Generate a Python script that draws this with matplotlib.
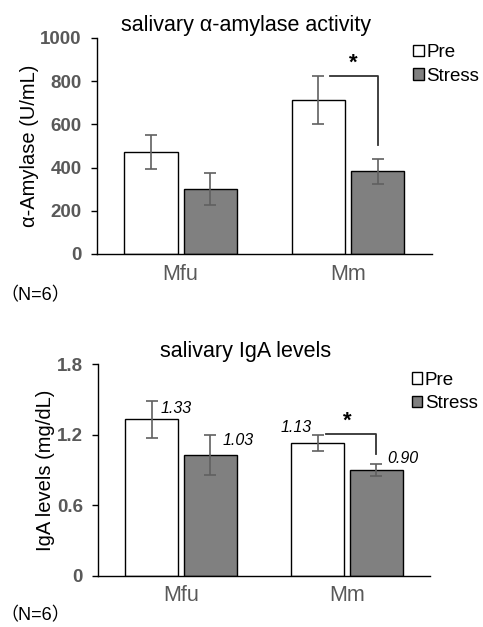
import matplotlib
matplotlib.use('Agg')
import matplotlib.pyplot as plt
import numpy as np

plt.rcParams['font.family'] = ['Liberation Sans', 'Noto Sans CJK JP', 'DejaVu Sans']

groups = ['Mfu', 'Mm']
series = ['Pre', 'Stress']

amy_pre = [472, 713]
amy_pre_err = [80, 110]
amy_stress = [301, 384]
amy_stress_err = [74, 58]

iga_pre = [1.33, 1.13]
iga_pre_err = [0.16, 0.07]
iga_stress = [1.03, 0.90]
iga_stress_err = [0.17, 0.05]

amy_ticks = [0, 200, 400, 600, 800, 1000]
iga_ticks = [0, 0.6, 1.2, 1.8]

TICK_GRAY = '#595959'
ERR_GRAY = '#606060'
STRESS_FILL = '#808080'

fig = plt.figure(figsize=(4.83, 6.27), dpi=100)


def draw_panel(ax, pre, pre_err, stress, stress_err, ticks, ylim, ylabel, title):
    x = np.arange(len(groups))
    w = 0.32
    off = 0.177
    ax.bar(x - off, pre, w, color='white', edgecolor='black', linewidth=1.0, label=series[0], zorder=2)
    ax.bar(x + off, stress, w, color=STRESS_FILL, edgecolor='black', linewidth=1.0, label=series[1], zorder=2)
    ax.errorbar(x - off, pre, yerr=pre_err, fmt='none', ecolor=ERR_GRAY, elinewidth=1.2, capsize=4, capthick=1.2, zorder=3)
    ax.errorbar(x + off, stress, yerr=stress_err, fmt='none', ecolor=ERR_GRAY, elinewidth=1.2, capsize=4, capthick=1.2, zorder=3)
    ax.set_xlim(-0.5, 1.5)
    ax.set_ylim(*ylim)
    ax.set_yticks(ticks)
    ax.set_yticklabels([f'{t:g}' for t in ticks], fontweight='bold', color=TICK_GRAY, fontsize=13.5)
    ax.set_xticks(x)
    ax.set_xticklabels(groups, fontsize=15.5, color=TICK_GRAY)
    ax.tick_params(axis='x', length=0, pad=7)
    ax.tick_params(axis='y', length=4, width=1, direction='out', pad=7)
    for s in ['top', 'right']:
        ax.spines[s].set_visible(False)
    ax.spines['left'].set_linewidth(1.0)
    ax.spines['bottom'].set_linewidth(1.0)
    ax.set_ylabel(ylabel, fontsize=14.5, labelpad=1)
    ax.set_title(title, fontsize=15.5, pad=5, x=0.446)
    leg = ax.legend(loc='upper left', frameon=False, fontsize=13.5,
                    handlelength=0.55, handleheight=0.55, handletextpad=0.15, labelspacing=0.33,
                    borderaxespad=0, borderpad=0)
    for h in leg.legend_handles:
        h.set_linewidth(1.0)
    return x, off


# top panel
ax1 = fig.add_axes([0.2008, 0.5949, 0.6930, 0.3445])
x, off = draw_panel(ax1, amy_pre, amy_pre_err, amy_stress, amy_stress_err, amy_ticks, (0, 1000),
                    'α-Amylase (U/mL)', 'salivary α-amylase activity')
ax1.plot([x[1] - off + 0.07, x[1] + off, x[1] + off], [824, 824, 505], color='#333333', lw=1.3, zorder=4)
ax1.text(x[1] + 0.03, 835, '*', ha='center', va='bottom', fontsize=16, fontweight='bold')
ax1.legend_.set_bbox_to_anchor((0.945, 0.97))
fig.text(0.0, 0.528, '（N=6）', fontsize=13, ha='left', va='center')

# bottom panel
ax2 = fig.add_axes([0.203, 0.0818, 0.687, 0.3372])
x, off = draw_panel(ax2, iga_pre, iga_pre_err, iga_stress, iga_stress_err, iga_ticks, (0, 1.8),
                    'IgA levels (mg/dL)', 'salivary IgA levels')
ax2.plot([x[1] - off + 0.05, x[1] + off, x[1] + off], [1.207, 1.207, 1.035], color='#333333', lw=1.3, zorder=4)
ax2.text(x[1] + 0.005, 1.225, '*', ha='center', va='bottom', fontsize=16, fontweight='bold')
ax2.legend_.set_bbox_to_anchor((0.945, 0.965))

# value labels
lab = dict(style='italic', fontsize=11.5, ha='center', va='center')
ax2.text(x[0] - off + 0.145, iga_pre[0] + 0.095, f'{iga_pre[0]:.2f}', **lab)
ax2.text(x[0] + off + 0.165, iga_stress[0] + 0.125, f'{iga_stress[0]:.2f}', **lab)
ax2.text(x[1] - off - 0.13, iga_pre[1] + 0.13, f'{iga_pre[1]:.2f}', **lab)
ax2.text(x[1] + off + 0.16, iga_stress[1] + 0.10, f'{iga_stress[1]:.2f}', **lab)

fig.text(0.0, 0.018, '（N=6）', fontsize=13, ha='left', va='center')

fig.savefig('out.png', dpi=100)
